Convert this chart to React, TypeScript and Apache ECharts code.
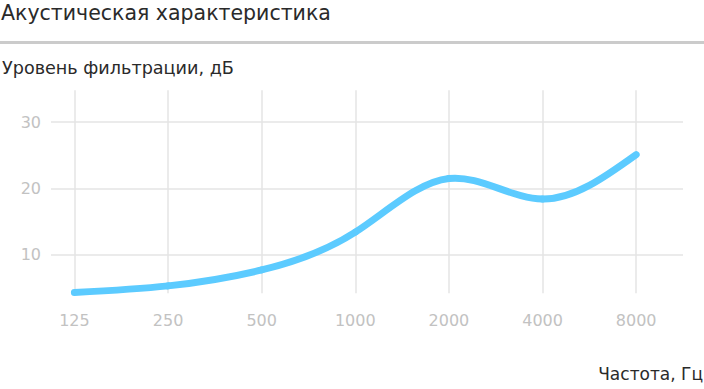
import React, { useEffect, useRef } from "react";
import * as echarts from "echarts";

const FREQUENCIES = ["125", "250", "500", "1000", "2000", "4000", "8000"];
const LEVELS = [4.3, 5.3, 7.7, 13.4, 21.5, 18.4, 25.1];
const Y_TICKS = [10, 20, 30];
const TITLE = "Акустическая характеристика";
const Y_NAME = "Уровень фильтрации, дБ";
const X_NAME = "Частота, Гц";

const FONT = "'DejaVu Sans', sans-serif";
const GRID_COLOR = "#e4e4e4";
const LABEL_COLOR = "#c2c2c2";
const LINE_COLOR = "#5ccbff";

// slopes of a natural cubic spline through the points (x spacing = 1), used to shape the curve
function splineSlopes(y: number[]): number[] {
  const n = y.length;
  const M = new Array(n).fill(0);
  const c: number[] = new Array(n).fill(0);
  const d: number[] = new Array(n).fill(0);
  for (let i = 1; i < n - 1; i++) {
    const rhs = 6 * (y[i + 1] - 2 * y[i] + y[i - 1]);
    const denom = 4 - (i > 1 ? c[i - 1] : 0);
    c[i] = 1 / denom;
    d[i] = (rhs - (i > 1 ? d[i - 1] : 0)) / denom;
  }
  for (let i = n - 2; i >= 1; i--) {
    M[i] = d[i] - c[i] * (i < n - 2 ? M[i + 1] : 0);
  }
  const s: number[] = [];
  for (let i = 0; i < n - 1; i++) {
    s[i] = y[i + 1] - y[i] - (2 * M[i] + M[i + 1]) / 6;
  }
  s[n - 1] = y[n - 1] - y[n - 2] + (M[n - 2] + 2 * M[n - 1]) / 6;
  return s;
}

export default function App() {
  const ref = useRef<HTMLDivElement>(null);
  useEffect(() => {
    if (!ref.current) return;
    const chart = echarts.init(ref.current, null, { renderer: "svg" });
    const xMin = -0.25;
    const xMax = 6.5;
    const slopes = splineSlopes(LEVELS);
    const lineData = LEVELS.map((v, i) => [i, v]);
    const hLines = Y_TICKS.map((t) => [{ coord: [xMin, t] }, { coord: [xMax, t] }]);
    const vLines = FREQUENCIES.map((_, i) => [{ coord: [i, 4.2] }, { coord: [i, 34.8] }]);
    chart.setOption({
      animation: false,
      textStyle: { fontFamily: FONT },
      title: {
        text: TITLE,
        left: 1,
        top: 2,
        padding: 0,
        textStyle: { fontFamily: FONT, fontSize: 20.5, fontWeight: "normal", color: "#2a2a2a" },
      },
      graphic: [
        { type: "rect", left: 0, top: 41, shape: { width: 704, height: 3 }, style: { fill: "#cbcbcb" } },
        {
          type: "text",
          left: 2,
          top: 59,
          style: { text: Y_NAME, fontFamily: FONT, fontSize: 17.6, fill: "#2a2a2a" },
        },
        {
          type: "text",
          right: 1,
          top: 365,
          style: { text: X_NAME, fontFamily: FONT, fontSize: 17, fill: "#2a2a2a" },
        },
      ],
      grid: { left: 51, right: 21, top: 89, bottom: 68 },
      xAxis: {
        type: "value",
        min: xMin,
        max: xMax,
        minInterval: 1,
        maxInterval: 1,
        axisLine: { show: false },
        axisTick: { show: false },
        splitLine: { show: false },
        axisLabel: {
          margin: -1,
          verticalAlign: "middle",
          fontSize: 16,
          color: LABEL_COLOR,
          fontFamily: FONT,
          showMinLabel: false,
          showMaxLabel: false,
          formatter: (v: number) => {
            const r = Math.round(v);
            if (Math.abs(v - r) > 1e-6 || r < 0 || r >= FREQUENCIES.length) return "";
            return FREQUENCIES[r];
          },
        },
      },
      yAxis: {
        type: "value",
        min: 0,
        max: 35,
        interval: 10,
        axisLine: { show: false },
        axisTick: { show: false },
        splitLine: { show: false },
        axisLabel: {
          margin: 10,
          fontSize: 16,
          color: LABEL_COLOR,
          fontFamily: FONT,
          formatter: (v: number) => (Y_TICKS.includes(v) ? String(v) : ""),
        },
      },
      series: [
        {
          type: "line",
          data: [],
          z: 1,
          silent: true,
          markLine: {
            silent: true,
            symbol: ["none", "none"],
            label: { show: false },
            lineStyle: { color: GRID_COLOR, width: 1.5, type: "solid" },
            data: [...hLines, ...vLines],
          },
        },
        {
          type: "custom",
          z: 5,
          silent: true,
          data: lineData,
          encode: { x: 0, y: 1 },
          renderItem: (params: any, api: any) => {
            const i = params.dataIndex;
            if (i >= LEVELS.length - 1) return null;
            const x0 = api.value(0);
            const y0 = api.value(1);
            const x1 = x0 + 1;
            const y1 = LEVELS[i + 1];
            const p0 = api.coord([x0, y0]);
            const c1 = api.coord([x0 + 1 / 3, y0 + slopes[i] / 3]);
            const c2 = api.coord([x1 - 1 / 3, y1 - slopes[i + 1] / 3]);
            const p1 = api.coord([x1, y1]);
            return {
              type: "bezierCurve",
              shape: {
                x1: p0[0], y1: p0[1],
                cpx1: c1[0], cpy1: c1[1],
                cpx2: c2[0], cpy2: c2[1],
                x2: p1[0], y2: p1[1],
              },
              style: { stroke: LINE_COLOR, lineWidth: 7, fill: null, lineCap: "round" },
            };
          },
        },
      ],
    });
    return () => chart.dispose();
  }, []);
  return (
    <div
      ref={ref}
      style={{ position: "fixed", left: 0, top: 0, width: 704, height: 389, background: "#fff" }}
    />
  );
}
